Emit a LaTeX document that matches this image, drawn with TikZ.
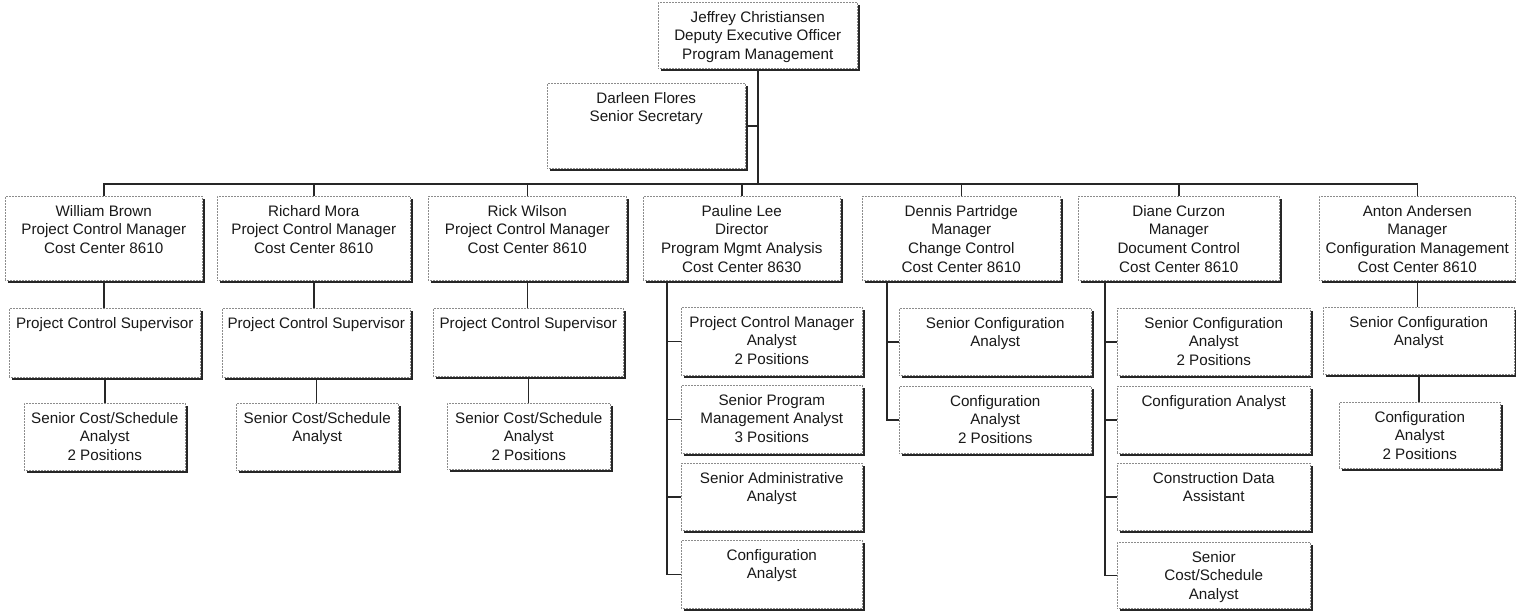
\documentclass[tikz,border=0pt]{standalone}
\usepackage{fontspec}
\setmainfont{Liberation Sans}
\begin{document}
\begin{tikzpicture}[x=1pt,y=-1pt,
  box/.style={draw=black!45, densely dotted, line width=0.5pt, inner sep=0pt, anchor=north west, fill=white},
  shadowl/.style={draw=black!85, line width=2.2pt},
  txt/.style={anchor=north, align=center, inner sep=0pt, text=black!90,
    font=\fontsize{15.2pt}{18.6pt}\selectfont},
  conn/.style={draw=black!85, line width=1.5pt}]
\useasboundingbox (0,0) rectangle (1516,611);
\newcommand\obox[6]{%
  \node[box, minimum width={#4-#2}, minimum height={#5-#3}] (#1) at (#2,#3) {};
  \draw[shadowl] ([xshift=1.2pt,yshift=-3pt]#1.north east) -- ([xshift=1.2pt,yshift=-1.1pt]#1.south east) -- ([xshift=3pt,yshift=-1.1pt]#1.south west);
  \node[txt] at ([yshift=-9pt]#1.north) {#6};}
\coordinate (bus) at (0,184);
% top
\obox{jc}{658}{2}{857}{68}{Jeffrey Christiansen\\Deputy Executive Officer\\Program Management}
\obox{df}{547}{83}{745}{168}{Darleen Flores\\Senior Secretary}
% row 1
\obox{wb}{5}{196}{202}{280}{William Brown\\Project Control Manager\\Cost Center 8610}
\obox{rm}{217}{196}{410}{280}{Richard Mora\\Project Control Manager\\Cost Center 8610}
\obox{rw}{428}{196}{626}{280}{Rick Wilson\\Project Control Manager\\Cost Center 8610}
\obox{pl}{643}{196}{840}{280}{Pauline Lee\\Director\\Program Mgmt Analysis\\Cost Center 8630}
\obox{dp}{862}{196}{1060}{280}{Dennis Partridge\\Manager\\Change Control\\Cost Center 8610}
\obox{dc}{1078}{196}{1279}{280}{Diane Curzon\\Manager\\Document Control\\Cost Center 8610}
\obox{aa}{1319}{196}{1515}{280}{Anton Andersen\\Manager\\Configuration Management\\Cost Center 8610}
% row 2 / 3 (left three)
\obox{ws}{9}{308}{200}{377}{Project Control Supervisor}
\obox{rs}{222}{308}{410}{377}{Project Control Supervisor}
\obox{ks}{433}{308}{623}{376}{Project Control Supervisor}
\obox{wa}{24}{403}{185}{470}{Senior Cost/Schedule\\Analyst\\2 Positions}
\obox{ra}{236}{403}{398}{470}{Senior Cost/Schedule\\Analyst}
\obox{ka}{447}{403}{610}{469}{Senior Cost/Schedule\\Analyst\\2 Positions}
% Pauline children
\obox{p1}{681}{307}{862}{375}{Project Control Manager\\Analyst\\2 Positions}
\obox{p2}{681}{385}{862}{453}{Senior Program\\Management Analyst\\3 Positions}
\obox{p3}{681}{463}{862}{530}{Senior Administrative\\Analyst}
\obox{p4}{681}{540}{862}{608}{Configuration\\Analyst}
% Dennis children
\obox{d1}{899}{308}{1091}{375}{Senior Configuration\\Analyst}
\obox{d2}{899}{386}{1091}{453}{Configuration\\Analyst\\2 Positions}
% Diane children
\obox{c1}{1117}{308}{1310}{375}{Senior Configuration\\Analyst\\2 Positions}
\obox{c2}{1117}{386}{1310}{453}{Configuration Analyst}
\obox{c3}{1117}{463}{1310}{530}{Construction Data\\Assistant}
\obox{c4}{1117}{542}{1310}{608}{Senior\\Cost/Schedule\\Analyst}
% Anton children
\obox{a1}{1323}{307}{1514}{374}{Senior Configuration\\Analyst}
\obox{a2}{1339}{402}{1500}{468}{Configuration\\Analyst\\2 Positions}
% connectors
\draw[conn] (jc.south) -- (jc.south |- bus);
\draw[conn] (df.east) -- (df.east -| jc.south);
\draw[conn] (wb.north) -- (wb.north |- bus) -- (aa.north |- bus) -- (aa.north);
\foreach \n in {rm,rw,pl,dp,dc} \draw[conn] (\n.north) -- (\n.north |- bus);
\draw[conn] (wb.south) -- (wb.south |- ws.north);
\draw[conn] (ws.south) -- (ws.south |- wa.north);
\draw[conn] (rm.south) -- (rm.south |- rs.north);
\draw[conn] (rs.south) -- (rs.south |- ra.north);
\draw[conn] (rw.south) -- (rw.south |- ks.north);
\draw[conn] (ks.south) -- (ks.south |- ka.north);
\draw[conn] (aa.south) -- (aa.south |- a1.north);
\draw[conn] (a1.south) -- (a1.south |- a2.north);
\coordinate (pt) at (667,280);
\draw[conn] (pt |- pl.south) |- (p4.west);
\foreach \n in {p1,p2,p3} \draw[conn] (\n.west) -- (\n.west -| pt);
\coordinate (dt) at (887,280);
\draw[conn] (dt |- dp.south) |- (d2.west);
\draw[conn] (d1.west) -- (d1.west -| dt);
\coordinate (ct) at (1105,280);
\draw[conn] (ct |- dc.south) |- (c4.west);
\foreach \n in {c1,c2,c3} \draw[conn] (\n.west) -- (\n.west -| ct);
\end{tikzpicture}
\end{document}
